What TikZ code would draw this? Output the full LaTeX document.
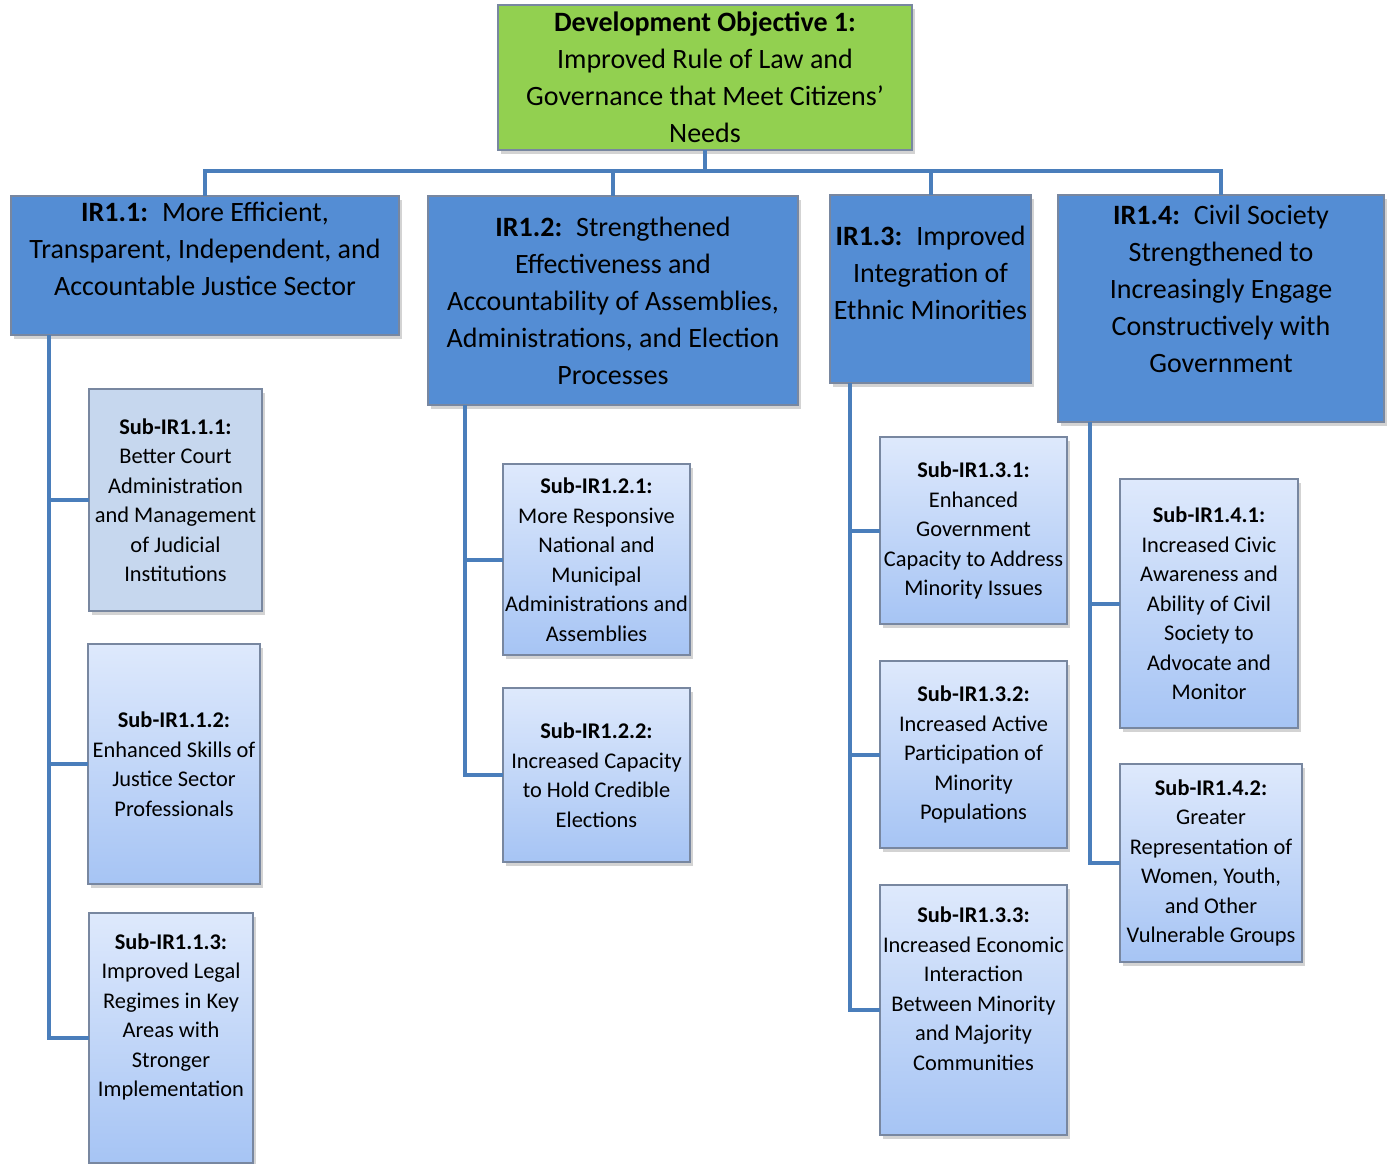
\documentclass[tikz,border=0pt]{standalone}
\usepackage{fontspec}
\setmainfont{Carlito}
\usepackage{tikz}
\usetikzlibrary{shadows}

\definecolor{dogreen}{RGB}{146,208,80}
\definecolor{irblue}{RGB}{84,141,212}
\definecolor{linkblue}{RGB}{74,126,187}
\definecolor{subtop}{RGB}{222,233,252}
\definecolor{subbot}{RGB}{166,196,244}
\definecolor{subflat}{RGB}{198,215,238}
\definecolor{boxline}{RGB}{120,135,160}

\begin{document}
\begin{tikzpicture}[x=1pt,y=-1pt,
  box/.style={draw=boxline,line width=1.5pt,inner sep=0pt,outer sep=0pt,align=center,
    drop shadow={shadow xshift=3pt,shadow yshift=-4pt,opacity=0.35}},
  bigfont/.style={font=\fontsize{28}{37}\selectfont},
  smallfont/.style={font=\fontsize{22.4}{29.5}\selectfont},
  dobox/.style={box,bigfont,fill=dogreen},
  irbox/.style={box,bigfont,fill=irblue},
  subbox/.style={box,smallfont},
  subshade/.style={subbox,top color=subtop,bottom color=subbot},
  lbl/.style={align=center,inner sep=0pt},
  link/.style={draw=linkblue,line width=4pt}]
\useasboundingbox (0,0) rectangle (1390,1164);

% objective and IR boxes
\node[dobox,minimum width=414pt,minimum height=145pt] (do) at (705,77.5)
  {\textbf{Development Objective 1:}\\Improved Rule of Law and\\Governance that Meet Citizens'\\Needs};
\node[irbox,minimum width=388pt,minimum height=139pt] (ir11) at (205,265.5) {};
\node[lbl,bigfont] (ir11t) at (205,249)
  {\textbf{IR1.1:}\enspace More Efficient,\\Transparent, Independent, and\\Accountable Justice Sector};
\node[irbox,minimum width=370pt,minimum height=209pt] (ir12) at (613,300.5)
  {\textbf{IR1.2:}\enspace Strengthened\\Effectiveness and\\Accountability of Assemblies,\\Administrations, and Election\\Processes};
\node[irbox,minimum width=201pt,minimum height=188pt] (ir13) at (930.5,289) {};
\node[lbl,bigfont] (ir13t) at (930.5,273)
  {\textbf{IR1.3:}\enspace Improved\\Integration of\\Ethnic Minorities};
\node[irbox,minimum width=326pt,minimum height=227pt] (ir14) at (1221,308.5) {};
\node[lbl,bigfont] (ir14t) at (1221,289)
  {\textbf{IR1.4:}\enspace Civil Society\\Strengthened to\\Increasingly Engage\\Constructively with\\Government};

% sub IR boxes
\node[subbox,fill=subflat,minimum width=173pt,minimum height=222pt] (s111) at (175.5,500)
  {\textbf{Sub-IR1.1.1:}\\Better Court\\Administration\\and Management\\of Judicial\\Institutions};
\node[subshade,minimum width=172pt,minimum height=240pt] (s112) at (174,764)
  {\textbf{Sub-IR1.1.2:}\\Enhanced Skills of\\Justice Sector\\Professionals};
\node[subshade,minimum width=164pt,minimum height=250pt] (s113) at (171,1038) {};
\node[lbl,smallfont] (s113t) at (171,1017)
  {\textbf{Sub-IR1.1.3:}\\Improved Legal\\Regimes in Key\\Areas with\\Stronger\\Implementation};
\node[subshade,minimum width=187pt,minimum height=191pt] (s121) at (596.5,559.5)
  {\textbf{Sub-IR1.2.1:}\\More Responsive\\National and\\Municipal\\Administrations and\\Assemblies};
\node[subshade,minimum width=187pt,minimum height=174pt] (s122) at (596.5,775)
  {\textbf{Sub-IR1.2.2:}\\Increased Capacity\\to Hold Credible\\Elections};
\node[subshade,minimum width=187pt,minimum height=187pt] (s131) at (973.5,530.5)
  {\textbf{Sub-IR1.3.1:}\\Enhanced\\Government\\Capacity to Address\\Minority Issues};
\node[subshade,minimum width=187pt,minimum height=187pt] (s132) at (973.5,754.5)
  {\textbf{Sub-IR1.3.2:}\\Increased Active\\Participation of\\Minority\\Populations};
\node[subshade,minimum width=187pt,minimum height=250pt] (s133) at (973.5,1010) {};
\node[lbl,smallfont] (s133t) at (973.5,988.5)
  {\textbf{Sub-IR1.3.3:}\\Increased Economic\\Interaction\\Between Minority\\and Majority\\Communities};
\node[subshade,minimum width=178pt,minimum height=249pt] (s141) at (1209,603.5)
  {\textbf{Sub-IR1.4.1:}\\Increased Civic\\Awareness and\\Ability of Civil\\Society to\\Advocate and\\Monitor};
\node[subshade,minimum width=182pt,minimum height=198pt] (s142) at (1211,863)
  {\textbf{Sub-IR1.4.2:}\\Greater\\Representation of\\Women, Youth,\\and Other\\Vulnerable Groups};

% connectors
\draw[link] (do.south) -- ++(0,21) -| (ir11.north);
\draw[link] (do.south) -- ++(0,21) -| (ir12.north);
\draw[link] (do.south) -- ++(0,21) -| (ir13.north);
\draw[link] (do.south) -- ++(0,21) -| (ir14.north);

\coordinate (sp11) at (49,335);
\coordinate (sp12) at (465,405);
\coordinate (sp13) at (850,383);
\coordinate (sp14) at (1090,422);
\draw[link] (sp11) |- (s111);
\draw[link] (sp11) |- (s112);
\draw[link] (sp11) |- (s113);
\draw[link] (sp12) |- (s121);
\draw[link] (sp12) |- (s122);
\draw[link] (sp13) |- (s131);
\draw[link] (sp13) |- (s132);
\draw[link] (sp13) |- (s133);
\draw[link] (sp14) |- (s141);
\draw[link] (sp14) |- (s142);
\end{tikzpicture}
\end{document}
